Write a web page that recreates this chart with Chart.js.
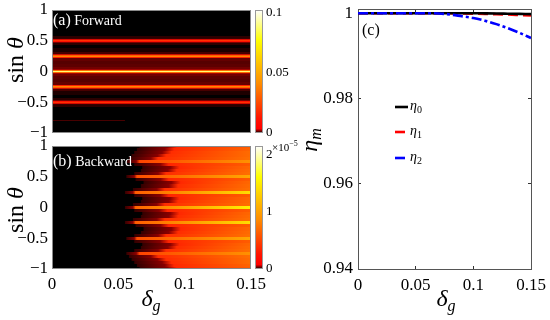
<!DOCTYPE html>
<html>
<head>
<meta charset="utf-8">
<script src="https://cdn.jsdelivr.net/npm/chart.js@4.4.0/dist/chart.umd.min.js"></script>
<style>
  body { margin: 0; background: #fff; }
  #wrap { position: relative; width: 550px; height: 320px; }
  canvas { position: absolute; left: 0; top: 0; }
</style>
</head>
<body>
<div id="wrap">
  <canvas id="fwd" width="550" height="320"></canvas>
  <canvas id="bwd" width="550" height="320"></canvas>
  <canvas id="eta" width="550" height="320"></canvas>
</div>
<script>
// ticks
const deltaTicks = [0, 0.05, 0.1, 0.15];
const sinTicks = [-1, -0.5, 0, 0.5, 1];
const etaTicks = [0.94, 0.96, 0.98, 1];
const fwdBarTicks = [0, 0.05, 0.1];
const bwdBarTicks = [0, 1, 2];
const fwdMax = 0.102;   // top of colour bar (a)
const bwdMax = 2.15;    // top of colour bar (b), x1e-5

// map rows, sin(theta)
const sinRows = [1, 0.95, 0.9, 0.85, 0.8, 0.75, 0.7, 0.65, 0.6, 0.55, 0.5,
  0.45, 0.4, 0.35, 0.3, 0.25, 0.2, 0.15, 0.1, 0.05, 0,
  -0.05, -0.1, -0.15, -0.2, -0.25, -0.3, -0.35, -0.4, -0.45, -0.5,
  -0.55, -0.6, -0.65, -0.7, -0.75, -0.8, -0.85, -0.9, -0.95, -1];

// (a) forward: faint background per row + bright lines
const fwdGlow = [0, 0, 0, 0, 0, 0, 0, 0, 0, 0.0006, 0.0008,
  0.0006, 0, 0.0004, 0.001, 0.0016, 0.0014, 0.0012, 0.0013, 0.0016, 0.0018,
  0.0016, 0.0013, 0.0012, 0.0014, 0.0016, 0.001, 0.0004, 0, 0.0006, 0.0008,
  0.0006, 0, 0, 0, 0, 0, 0, 0, 0, 0];
const fwdLinePos = [0.5, 0.25, 0, -0.25, -0.5];
const fwdLinePeak = [0.023, 0.057, 0.088, 0.057, 0.023];
const fwdFaint = [-0.8, 0.055, 0.001]; // sinθ, end of δg, level

// (b) backward: where each row leaves black, reaches red, and its level (x1e-5)
const bwdOnset = [0.066, 0.064, 0.062, 0.06, 0.058, 0.056, 0.062, 0.068, 0.067, 0.062, 0.056,
  0.063, 0.069, 0.067, 0.061, 0.055, 0.062, 0.068, 0.067, 0.061, 0.055,
  0.062, 0.068, 0.067, 0.061, 0.055, 0.063, 0.069, 0.067, 0.062, 0.056,
  0.062, 0.068, 0.067, 0.062, 0.056, 0.058, 0.06, 0.062, 0.064, 0.066];
const bwdFull = [0.094, 0.092, 0.09, 0.086, 0.08, 0.066, 0.088, 0.096, 0.094, 0.086, 0.064,
  0.088, 0.097, 0.095, 0.085, 0.063, 0.088, 0.096, 0.095, 0.085, 0.063,
  0.087, 0.096, 0.095, 0.085, 0.063, 0.088, 0.097, 0.095, 0.086, 0.064,
  0.088, 0.096, 0.094, 0.086, 0.066, 0.08, 0.086, 0.09, 0.092, 0.094];
const bwdMid = [0.34, 0.36, 0.38, 0.38, 0.38, 0.5, 0.34, 0.36, 0.38, 0.38, 0.55,
  0.34, 0.36, 0.38, 0.38, 0.62, 0.34, 0.36, 0.38, 0.38, 0.66,
  0.34, 0.36, 0.38, 0.38, 0.62, 0.34, 0.36, 0.38, 0.38, 0.55,
  0.34, 0.36, 0.38, 0.38, 0.5, 0.38, 0.38, 0.38, 0.36, 0.34];
const bwdEnd = [0.62, 0.66, 0.7, 0.7, 0.72, 0.9, 0.62, 0.68, 0.7, 0.72, 1.05,
  0.62, 0.68, 0.7, 0.72, 1.4, 0.62, 0.68, 0.7, 0.72, 1.55,
  0.62, 0.68, 0.7, 0.72, 1.4, 0.62, 0.68, 0.7, 0.72, 1.05,
  0.62, 0.68, 0.7, 0.72, 0.9, 0.72, 0.7, 0.7, 0.66, 0.62];
const bwdDark = 0.015;

// (c) efficiencies
const deltaG = [0, 0.01, 0.02, 0.03, 0.04, 0.05, 0.06, 0.07, 0.08, 0.09, 0.1, 0.11, 0.12, 0.13, 0.14, 0.15];
const eta0 = [1, 1, 1, 1, 1, 1, 1, 1, 1, 1, 1, 0.99998, 0.99995, 0.9999, 0.99985, 0.9998];
const eta1 = [1, 1, 1, 1, 1, 1, 1, 1, 1, 0.99995, 0.9999, 0.99985, 0.99978, 0.9997, 0.9996, 0.9995];
const eta2 = [1, 1, 1, 1, 1, 1, 1, 0.99995, 0.9997, 0.9993, 0.9989, 0.99825, 0.99745, 0.9965, 0.9954, 0.9942];

const SERIF = '"Liberation Serif", "Times New Roman", serif';
Chart.defaults.font.family = SERIF;
Chart.defaults.color = '#000';

const heatStops = [[0, [0, 0, 0]], [0.035, [255, 0, 0]], [0.12, [255, 20, 0]],
  [0.4, [255, 140, 0]], [0.75, [255, 255, 0]], [1, [255, 255, 255]]];

function heatColor(t) {
  t = Math.max(0, Math.min(1, t));
  for (let i = 1; i < heatStops.length; i++) {
    const [t1, c1] = heatStops[i];
    if (t <= t1) {
      const [t0, c0] = heatStops[i - 1];
      const f = (t - t0) / (t1 - t0);
      return 'rgb(' + c0.map((c, k) => Math.round(c + (c1[k] - c) * f)).join(',') + ')';
    }
  }
  return 'rgb(255,255,255)';
}

const fmt = v => String(Math.round(v * 10000) / 10000).replace('-', '\u2212');

// centred text made of pieces: [text, size, italic, dy]
function drawMath(ctx, parts, x, y, rotate) {
  ctx.save();
  ctx.translate(x, y);
  if (rotate) ctx.rotate(-Math.PI / 2);
  ctx.fillStyle = '#000';
  ctx.textBaseline = 'alphabetic';
  const fonts = parts.map(p => (p[2] ? 'italic ' : '') + p[1] + 'px ' + SERIF);
  const widths = parts.map((p, i) => { ctx.font = fonts[i]; return ctx.measureText(p[0]).width; });
  let cx = -widths.reduce((a, b) => a + b, 0) / 2;
  parts.forEach((p, i) => { ctx.font = fonts[i]; ctx.fillText(p[0], cx, p[3] || 0); cx += widths[i]; });
  ctx.restore();
}

function drawLeft(ctx, parts, x, y, color) {
  ctx.save();
  ctx.fillStyle = color;
  ctx.textBaseline = 'alphabetic';
  let cx = x;
  parts.forEach(p => {
    ctx.font = (p[2] ? 'italic ' : '') + p[1] + 'px ' + SERIF;
    ctx.fillText(p[0], cx, y + (p[3] || 0));
    cx += ctx.measureText(p[0]).width;
  });
  ctx.restore();
}

function rowBounds(y, s, half) {
  return [Math.round(y.getPixelForValue(s + half)), Math.round(y.getPixelForValue(s - half))];
}

function sinAxis() {
  return {
    type: 'linear', min: -1, max: 1,
    afterBuildTicks: s => { s.ticks = sinTicks.map(v => ({ value: v })); },
    afterFit: s => { s.width = 52; s.paddingTop = 0; s.paddingBottom = 0; },
    grid: { display: false, drawTicks: false },
    border: { display: false },
    ticks: { padding: 4, font: { size: 17 }, callback: fmt }
  };
}

function barAxis(max, ticks) {
  return {
    axis: 'y', position: 'right', type: 'linear', min: 0, max: max,
    afterBuildTicks: s => { s.ticks = ticks.map(v => ({ value: v })); },
    afterFit: s => { s.width = 49; s.paddingTop = 0; s.paddingBottom = 0; },
    grid: { display: false, drawTicks: false },
    border: { display: false },
    ticks: { padding: 15, font: { size: 13 }, callback: fmt }
  };
}

function deltaAxis(show, inner) {
  return {
    type: 'linear', min: 0, max: 0.15, display: show,
    afterBuildTicks: s => { s.ticks = deltaTicks.map(v => ({ value: v })); },
    afterFit: s => { s.height = show ? 51 : 0; s.paddingLeft = 0; s.paddingRight = 0; },
    grid: inner ? { display: true, drawOnChartArea: false, drawTicks: true, tickLength: -3, color: '#333' }
                : { display: false, drawTicks: false },
    border: inner ? { display: true, color: '#555', width: 1 } : { display: false },
    ticks: { padding: inner ? 9 : 5, font: { size: 17 }, maxRotation: 0, callback: fmt }
  };
}

function drawColorBar(chart) {
  const { ctx } = chart;
  const cb = chart.scales.cb;
  const yTop = Math.round(cb.getPixelForValue(cb.max));
  const yBot = Math.round(cb.getPixelForValue(0));
  const x0 = cb.left + 4;
  const g = ctx.createLinearGradient(0, yBot, 0, yTop);
  heatStops.forEach(([t, c]) => g.addColorStop(t, 'rgb(' + c.join(',') + ')'));
  ctx.save();
  ctx.fillStyle = g;
  ctx.fillRect(x0, yTop, 8, yBot - yTop);
  ctx.strokeStyle = '#999';
  ctx.lineWidth = 1;
  ctx.strokeRect(x0 + 0.5, yTop + 0.5, 7, yBot - yTop - 1);
  ctx.restore();
}

function frame(chart) {
  const { ctx, chartArea: a } = chart;
  ctx.save();
  ctx.strokeStyle = '#8a8a8a';
  ctx.lineWidth = 1;
  ctx.strokeRect(Math.round(a.left) + 0.5, Math.round(a.top) + 0.5,
    Math.round(a.width) - 1, Math.round(a.height) - 1);
  ctx.restore();
}

// ---- (a) forward ----
function drawForward(chart) {
  const { ctx, chartArea: a, scales: { x, y } } = chart;
  const x0 = x.getPixelForValue(0), x1 = x.getPixelForValue(0.15);
  ctx.save();
  ctx.beginPath(); ctx.rect(a.left, a.top, a.width, a.height); ctx.clip();
  ctx.fillStyle = heatColor(0);
  ctx.fillRect(a.left, a.top, a.width, a.height);
  sinRows.forEach((s, i) => {
    if (!fwdGlow[i]) return;
    const [yt, yb] = rowBounds(y, s, 0.025);
    ctx.fillStyle = heatColor(fwdGlow[i] / fwdMax);
    ctx.fillRect(x0, yt, x1 - x0, yb - yt);
  });
  const [ft, fb] = rowBounds(y, fwdFaint[0], 0.012);
  ctx.fillStyle = heatColor(fwdFaint[2] / fwdMax);
  ctx.fillRect(x0, ft, x.getPixelForValue(fwdFaint[1]) - x0, Math.max(1, fb - ft));
  fwdLinePos.forEach((s, i) => {
    const pk = fwdLinePeak[i];
    const yt = y.getPixelForValue(s + 0.03), yb = y.getPixelForValue(s - 0.03);
    const g = ctx.createLinearGradient(0, yt, 0, yb);
    [[0, 0.1], [0.3, 0.45], [0.5, 1], [0.7, 0.45], [1, 0.1]]
      .forEach(([o, f]) => g.addColorStop(o, heatColor(pk * f / fwdMax)));
    ctx.fillStyle = g;
    ctx.fillRect(x0, yt, x1 - x0, yb - yt);
  });
  ctx.restore();
}

new Chart(document.getElementById('fwd'), {
  type: 'scatter',
  data: { datasets: [] },
  options: {
    responsive: false, animation: false, devicePixelRatio: 1,
    layout: { padding: { left: 0, top: 10, right: 250, bottom: 187 } },
    plugins: { legend: { display: false }, tooltip: { enabled: false } },
    scales: { x: deltaAxis(false, false), y: sinAxis(), cb: barAxis(fwdMax, fwdBarTicks) }
  },
  plugins: [{
    id: 'forwardMap',
    beforeDatasetsDraw: drawForward,
    afterDraw(chart) {
      const ctx = chart.ctx;
      frame(chart);
      drawColorBar(chart);
      drawLeft(ctx, [['(a)', 16, false], [' Forward', 14, false]], 53, 25, '#fff');
      drawMath(ctx, [['sin ', 24, false], ['θ', 24, true]], 23, 60, true);
    }
  }]
});

// ---- (b) backward ----
function drawBackward(chart) {
  const { ctx, chartArea: a, scales: { x, y } } = chart;
  const xe = x.getPixelForValue(0.15);
  ctx.save();
  ctx.beginPath(); ctx.rect(a.left, a.top, a.width, a.height); ctx.clip();
  ctx.fillStyle = heatColor(0);
  ctx.fillRect(a.left, a.top, a.width, a.height);
  sinRows.forEach((s, i) => {
    const [yt, yb] = rowBounds(y, s, 0.025);
    const xa = x.getPixelForValue(bwdOnset[i]);
    const xf = x.getPixelForValue(bwdFull[i]);
    const f = (xf - xa) / (xe - xa);
    const g = ctx.createLinearGradient(xa, 0, xe, 0);
    g.addColorStop(0, heatColor(bwdDark / bwdMax));
    g.addColorStop(f * 0.75, heatColor(0.04 / bwdMax));
    g.addColorStop(f, heatColor(bwdMid[i] / bwdMax));
    g.addColorStop(1, heatColor(bwdEnd[i] / bwdMax));
    ctx.fillStyle = g;
    ctx.fillRect(xa, yt, xe - xa, yb - yt);
  });
  ctx.restore();
}

new Chart(document.getElementById('bwd'), {
  type: 'scatter',
  data: { datasets: [] },
  options: {
    responsive: false, animation: false, devicePixelRatio: 1,
    layout: { padding: { left: 0, top: 146, right: 250, bottom: 0 } },
    plugins: { legend: { display: false }, tooltip: { enabled: false } },
    scales: { x: deltaAxis(true, false), y: sinAxis(), cb: barAxis(bwdMax, bwdBarTicks) }
  },
  plugins: [{
    id: 'backwardMap',
    beforeDatasetsDraw: drawBackward,
    afterDraw(chart) {
      const ctx = chart.ctx;
      frame(chart);
      drawColorBar(chart);
      drawLeft(ctx, [['(b)', 16, false], [' Backward', 14, false]], 53, 165.5, '#fff');
      drawLeft(ctx, [['×10', 11, false], ['\u22125', 8, false, -5]], 272, 151, '#000');
      drawMath(ctx, [['sin ', 24, false], ['θ', 24, true]], 23, 210, true);
      drawMath(ctx, [['δ', 24, true], ['g', 16, true, 5]], 151, 306, false);
    }
  }]
});

// ---- (c) efficiencies ----
const etaSeries = [
  { label: 'η0', values: eta0, color: '#000000', dash: [], order: 2 },
  { label: 'η1', values: eta1, color: '#ff0000', dash: [10, 5], order: 3 },
  { label: 'η2', values: eta2, color: '#0000ff', dash: [10, 3, 3, 3], order: 1 }
];

function boxAxis(axis, position, min, max, ticks) {
  return {
    axis: axis, position: position, type: 'linear', min: min, max: max,
    afterBuildTicks: s => { s.ticks = ticks.map(v => ({ value: v })); },
    afterFit: s => {
      if (axis === 'x') s.height = 0; else s.width = 0;
      s.paddingTop = s.paddingBottom = s.paddingLeft = s.paddingRight = 0;
    },
    grid: { display: true, drawOnChartArea: false, drawTicks: true, tickLength: -3, color: '#333' },
    border: { display: true, color: '#555', width: 1 },
    ticks: { display: false }
  };
}

new Chart(document.getElementById('eta'), {
  type: 'line',
  data: {
    datasets: etaSeries.map(s => ({
      label: s.label,
      data: deltaG.map((d, i) => ({ x: d, y: s.values[i] })),
      borderColor: s.color,
      borderDash: s.dash,
      borderWidth: 2.6,
      pointRadius: 0,
      fill: false,
      cubicInterpolationMode: 'monotone',
      order: s.order
    }))
  },
  options: {
    responsive: false, animation: false, devicePixelRatio: 1,
    layout: { padding: { left: 270, top: 9, right: 19, bottom: 0 } },
    plugins: { legend: { display: false }, tooltip: { enabled: false } },
    scales: {
      x: deltaAxis(true, true),
      y: {
        type: 'linear', min: 0.94, max: 1.001,
        afterBuildTicks: s => { s.ticks = etaTicks.map(v => ({ value: v })); },
        afterFit: s => { s.width = 88; s.paddingTop = 0; s.paddingBottom = 0; },
        grid: { display: true, drawOnChartArea: false, drawTicks: true, tickLength: -3, color: '#333' },
        border: { display: true, color: '#555', width: 1 },
        ticks: { padding: 8, font: { size: 17 }, callback: fmt }
      },
      x2: boxAxis('x', 'top', 0, 0.15, deltaTicks),
      y2: boxAxis('y', 'right', 0.94, 1.001, etaTicks)
    }
  },
  plugins: [{
    id: 'etaText',
    afterDraw(chart) {
      const ctx = chart.ctx;
      drawLeft(ctx, [['(c)', 16, false]], 362, 35, '#000');
      drawMath(ctx, [['η', 24, true], ['m', 16, true, 4]], 317, 140, true);
      drawMath(ctx, [['δ', 24, true], ['g', 16, true, 5]], 446, 306, false);
      // legend
      const rows = [107, 132, 158];
      chart.data.datasets.forEach((ds, i) => {
        const yy = rows[i];
        ctx.save();
        ctx.strokeStyle = ds.borderColor;
        ctx.lineWidth = ds.borderWidth;
        ctx.setLineDash(ds.borderDash);
        ctx.beginPath(); ctx.moveTo(395, yy); ctx.lineTo(408, yy); ctx.stroke();
        ctx.restore();
        drawLeft(ctx, [[ds.label[0], 14, true], [ds.label.slice(1), 10, false, 3]], 410, yy + 3, '#000');
      });
    }
  }]
});
</script>
</body>
</html>
